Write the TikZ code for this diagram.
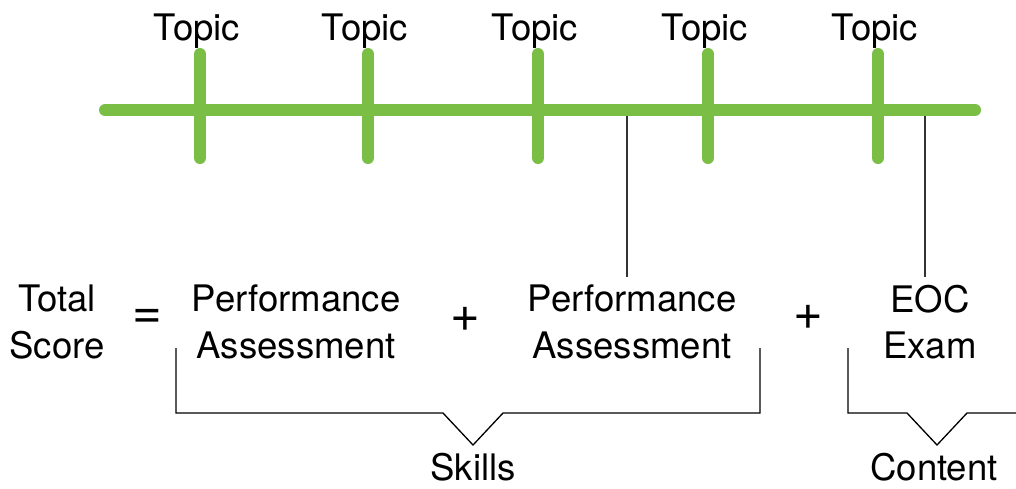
\documentclass[tikz,border=0pt]{standalone}
\usepackage{fontspec}
\setmainfont{TeX Gyre Heros}
\definecolor{topicgreen}{RGB}{122,190,70}
\tikzset{
  bar/.style={draw=topicgreen, line width=0.24cm, line cap=round},
  txt/.style={align=center, inner sep=0pt, font=\fontsize{20.8}{26.5}\selectfont},
  sym/.style={inner sep=0pt, font=\fontsize{29}{30}\selectfont},
  pointer/.style={draw=black!80, line width=0.6pt},
  brace/.style={draw=black, line width=0.75pt}
}
\begin{document}
\begin{tikzpicture}[x=0.02cm, y=-0.02cm]
  \useasboundingbox (0,0) rectangle (1016,488);

  % time line with topics
  \coordinate (start) at (105,110);
  \coordinate (end) at (975,110);
  \draw[bar] (start) -- (end);
  \foreach \x in {200,368,538,708,878}{
    \coordinate (top\x) at (\x,54);
    \coordinate (bot\x) at (\x,158);
    \draw[bar] (top\x) -- (bot\x);
    \node[txt] (topic\x) at (\x-3,31) {Topic};
  }

  % score formula
  \node[txt] (total) at (57,322) {Total\\Score};
  \node[sym] (eq) at (147,319) {=};
  \node[txt] (pa1) at (296,322) {Performance\\Assessment};
  \node[sym] (plus1) at (465,319) {+};
  \node[txt] (pa2) at (632,322) {Performance\\Assessment};
  \node[sym] (plus2) at (808,317) {+};
  \node[txt] (eoc) at (930,322) {EOC\\Exam};

  % pointers from the time line
  \coordinate (m1) at (627,116);
  \coordinate (m2) at (627,277);
  \coordinate (m3) at (925,116);
  \coordinate (m4) at (925,277);
  \draw[pointer] (m1) -- (m2);
  \draw[pointer] (m3) -- (m4);

  % brackets
  \node[txt] (skills) at (473,467) {Skills};
  \node[txt] (content) at (934,467) {Content};
  \draw[brace] (176,348) -- (176,413) -- (443,413) -- (473,445)
    -- (503,413) -- (760,413) -- (760,348);
  \draw[brace] (848,348) -- (848,413) -- (907,413) -- (937,445)
    -- (967,413) -- (1016,413);
\end{tikzpicture}
\end{document}
